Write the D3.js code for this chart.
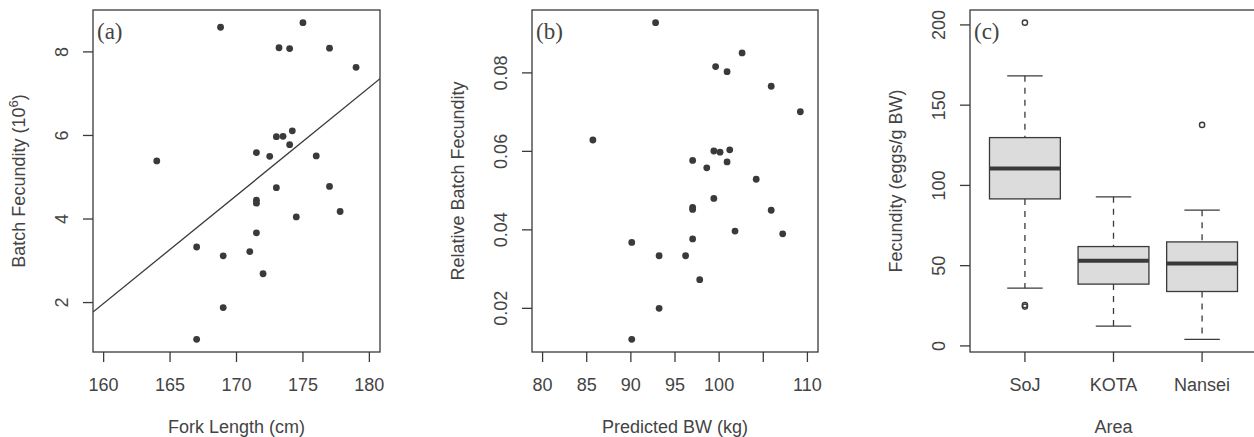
<!DOCTYPE html>
<html>
<head>
<meta charset="utf-8">
<script src="https://cdn.jsdelivr.net/npm/d3@7"></script>
<style>
  body { margin: 0; background: #fff; }
  svg text { font-family: "Liberation Sans", Arial, sans-serif; fill: #444; }
  .panel-tag { font-family: "Liberation Serif", "Times New Roman", serif; }
</style>
</head>
<body>
<div id="chart"></div>
<script>
// (a) fork length vs batch fecundity
const forkLength = [168.8, 175.0, 173.2, 174.0, 177.0, 179.0, 173.0, 173.5, 174.2, 174.0,
  171.5, 172.5, 176.0, 164.0, 173.0, 177.0, 171.5, 171.5, 174.5, 177.8,
  171.5, 167.0, 169.0, 171.0, 172.0, 169.0, 167.0]
const batchFec = [8.59, 8.70, 8.10, 8.08, 8.09, 7.63, 5.97, 5.98, 6.11, 5.78,
  5.59, 5.50, 5.51, 5.39, 4.75, 4.78, 4.45, 4.38, 4.05, 4.18,
  3.67, 3.33, 3.12, 3.22, 2.69, 1.88, 1.12]
const fitLine = { intercept: -39.38, slope: 0.2585 }
const xTicksA = [160, 165, 170, 175, 180]
const yTicksA = [2, 4, 6, 8]

// (b) predicted body weight vs relative batch fecundity
const predBW = [92.8, 102.6, 99.6, 100.9, 105.9, 109.2, 85.7, 99.4, 100.1, 101.2,
  97.0, 98.6, 100.9, 104.2, 99.4, 97.0, 97.0, 105.9, 101.8, 107.2,
  90.1, 97.0, 93.2, 96.2, 97.8, 93.2, 90.1]
const relFec = [0.0928, 0.0851, 0.0816, 0.0803, 0.0766, 0.0701, 0.0629, 0.0601, 0.0598, 0.0604,
  0.0577, 0.0558, 0.0573, 0.0529, 0.0480, 0.0457, 0.0452, 0.0450, 0.0397, 0.0390,
  0.0368, 0.0377, 0.0334, 0.0334, 0.0273, 0.0200, 0.0121]
const xTicksB = [80, 85, 90, 95, 100, 105, 110]
const xLabelsB = ['80', '85', '90', '95', '100', '', '110'] // R drops the 105 label
const yTicksB = [0.02, 0.04, 0.06, 0.08]

// (c) fecundity by area, boxplot stats
const areas = ['SoJ', 'KOTA', 'Nansei']
const whiskerLo = [36.0, 12.3, 4.1]
const q1 = [91.6, 38.5, 33.9]
const medians = [110.6, 53.1, 51.4]
const q3 = [129.8, 61.9, 64.8]
const whiskerHi = [168.3, 92.9, 84.6]
const outliers = [[201.4, 24.5, 25.5], [], [137.7]]
const yTicksC = [0, 50, 100, 150, 200]

const W = 1254, H = 437
const ink = '#3a3a3a'
const fs = 18

const svg = d3.select('#chart').append('svg')
  .attr('width', W)
  .attr('height', H)

svg.append('rect').attr('width', W).attr('height', H).attr('fill', '#fff')

// R style: pad the data range by 4% on each side
function pad(lo, hi) {
  const d = (hi - lo) * 0.04
  return [lo - d, hi + d]
}

// draws frame, ticks, tick labels and titles for one panel
function frame(box, x, y, opt) {
  const g = svg.append('g')

  g.append('rect')
    .attr('x', box.left).attr('y', box.top)
    .attr('width', box.right - box.left).attr('height', box.bottom - box.top)
    .attr('fill', 'none').attr('stroke', ink).attr('stroke-width', 1.3)

  // x ticks
  g.selectAll('.xt').data(opt.xTicks).enter().append('line')
    .attr('x1', d => x(d)).attr('x2', d => x(d))
    .attr('y1', box.bottom).attr('y2', box.bottom + 10)
    .attr('stroke', ink).attr('stroke-width', 1.3)
  g.selectAll('.xl').data(opt.xTicks).enter().append('text')
    .attr('x', d => x(d)).attr('y', box.bottom + 38.5)
    .attr('text-anchor', 'middle').attr('font-size', fs)
    .text((d, i) => opt.xLabels[i])

  // y ticks, labels rotated like R's las=0
  g.selectAll('.yt').data(opt.yTicks).enter().append('line')
    .attr('x1', box.left - 10).attr('x2', box.left)
    .attr('y1', d => y(d)).attr('y2', d => y(d))
    .attr('stroke', ink).attr('stroke-width', 1.3)
  g.selectAll('.yl').data(opt.yTicks).enter().append('text')
    .attr('transform', d => `translate(${box.left - 25.5},${y(d)}) rotate(-90)`)
    .attr('text-anchor', 'middle').attr('font-size', fs)
    .text(d => opt.yFormat(d))

  g.append('text')
    .attr('x', (box.left + box.right) / 2).attr('y', 433)
    .attr('text-anchor', 'middle').attr('font-size', fs)
    .text(opt.xTitle)

  const yt = g.append('text')
    .attr('transform', `translate(${box.left - 68.5},${(box.top + box.bottom) / 2}) rotate(-90)`)
    .attr('text-anchor', 'middle').attr('font-size', fs)
  opt.yTitle(yt)

  g.append('text')
    .attr('class', 'panel-tag')
    .attr('x', box.left + 4).attr('y', 39)
    .attr('font-size', 23)
    .text(opt.tag)
}

//---------- panel (a)
const boxA = { left: 93, right: 380, top: 10, bottom: 352 }
const xA = d3.scaleLinear().domain(pad(160, 180)).range([boxA.left, boxA.right])
const yA = d3.scaleLinear().domain(pad(d3.min(batchFec), d3.max(batchFec))).range([boxA.bottom, boxA.top])

frame(boxA, xA, yA, {
  xTicks: xTicksA, xLabels: xTicksA.map(String),
  yTicks: yTicksA, yFormat: d => d,
  xTitle: 'Fork Length (cm)',
  yTitle: t => {
    t.append('tspan').text('Batch Fecundity (10')
    t.append('tspan').attr('font-size', 13).attr('dy', -7).text('6')
    t.append('tspan').attr('dy', 7).text(')')
  },
  tag: '(a)'
})

svg.append('clipPath').attr('id', 'clipA').append('rect')
  .attr('x', boxA.left).attr('y', boxA.top)
  .attr('width', boxA.right - boxA.left).attr('height', boxA.bottom - boxA.top)

const xsA = xA.domain()
svg.append('line')
  .attr('clip-path', 'url(#clipA)')
  .attr('x1', xA(xsA[0])).attr('y1', yA(fitLine.intercept + fitLine.slope * xsA[0]))
  .attr('x2', xA(xsA[1])).attr('y2', yA(fitLine.intercept + fitLine.slope * xsA[1]))
  .attr('stroke', ink).attr('stroke-width', 1.3)

svg.append('g').selectAll('circle')
  .data(forkLength)
  .enter()
  .append('circle')
  .attr('cx', d => xA(d))
  .attr('cy', (d, i) => yA(batchFec[i]))
  .attr('r', 3.4)
  .attr('fill', ink)

//---------- panel (b)
const boxB = { left: 532, right: 818, top: 10, bottom: 352 }
const xB = d3.scaleLinear().domain(pad(80, 110)).range([boxB.left, boxB.right])
const yB = d3.scaleLinear().domain(pad(d3.min(relFec), d3.max(relFec))).range([boxB.bottom, boxB.top])

frame(boxB, xB, yB, {
  xTicks: xTicksB, xLabels: xLabelsB,
  yTicks: yTicksB, yFormat: d3.format('.2f'),
  xTitle: 'Predicted BW (kg)',
  yTitle: t => t.text('Relative Batch Fecundity'),
  tag: '(b)'
})

svg.append('g').selectAll('circle')
  .data(predBW)
  .enter()
  .append('circle')
  .attr('cx', d => xB(d))
  .attr('cy', (d, i) => yB(relFec[i]))
  .attr('r', 3.4)
  .attr('fill', ink)

//---------- panel (c)
const boxC = { left: 970, right: 1257, top: 10, bottom: 352 }
const xC = d3.scaleLinear().domain(pad(0.5, areas.length + 0.5)).range([boxC.left, boxC.right])
const allC = whiskerLo.concat(whiskerHi, outliers.flat())
const yC = d3.scaleLinear().domain(pad(d3.min(allC), d3.max(allC))).range([boxC.bottom, boxC.top])

frame(boxC, xC, yC, {
  xTicks: [1, 2, 3], xLabels: areas,
  yTicks: yTicksC, yFormat: d => d,
  xTitle: 'Area',
  yTitle: t => t.text('Fecundity (eggs/g BW)'),
  tag: '(c)'
})

const halfBox = (xC(1.4) - xC(1))
const halfCap = halfBox / 2
const bp = svg.append('g')

areas.forEach((a, i) => {
  const cx = xC(i + 1)
  // dashed whiskers
  bp.append('line').attr('x1', cx).attr('x2', cx)
    .attr('y1', yC(whiskerHi[i])).attr('y2', yC(q3[i]))
    .attr('stroke', ink).attr('stroke-width', 1.3).attr('stroke-dasharray', '6,6')
  bp.append('line').attr('x1', cx).attr('x2', cx)
    .attr('y1', yC(q1[i])).attr('y2', yC(whiskerLo[i]))
    .attr('stroke', ink).attr('stroke-width', 1.3).attr('stroke-dasharray', '6,6')
  // caps
  ;[whiskerHi[i], whiskerLo[i]].forEach(v => {
    bp.append('line').attr('x1', cx - halfCap).attr('x2', cx + halfCap)
      .attr('y1', yC(v)).attr('y2', yC(v))
      .attr('stroke', ink).attr('stroke-width', 1.3)
  })
  bp.append('rect')
    .attr('x', cx - halfBox).attr('width', halfBox * 2)
    .attr('y', yC(q3[i])).attr('height', yC(q1[i]) - yC(q3[i]))
    .attr('fill', '#dcdcdc').attr('stroke', ink).attr('stroke-width', 1.3)
  bp.append('line').attr('x1', cx - halfBox).attr('x2', cx + halfBox)
    .attr('y1', yC(medians[i])).attr('y2', yC(medians[i]))
    .attr('stroke', ink).attr('stroke-width', 4)
  bp.selectAll(null).data(outliers[i]).enter().append('circle')
    .attr('cx', cx).attr('cy', d => yC(d)).attr('r', 2.6)
    .attr('fill', 'none').attr('stroke', ink).attr('stroke-width', 1.4)
})
</script>
</body>
</html>
